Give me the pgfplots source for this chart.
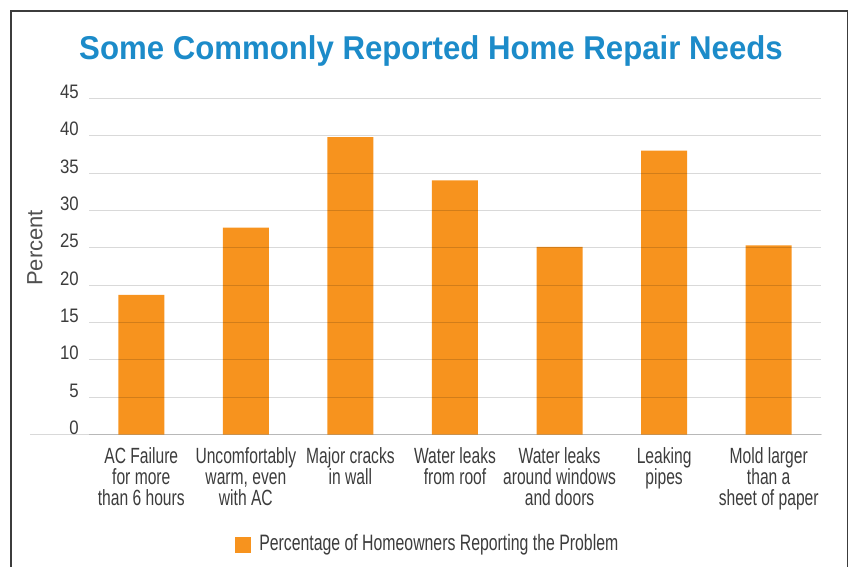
\documentclass[border=0pt]{standalone}
\usepackage{fontspec}
\setmainfont{Liberation Sans}[FakeStretch=0.71]
\newfontfamily\titlefont{Liberation Sans}[FakeStretch=0.945]
\newfontfamily\tickfont{Liberation Sans}[FakeStretch=0.86]
\newfontfamily\plainfont{Liberation Sans}
\usepackage{pgfplots}
\pgfplotsset{compat=1.18}
\definecolor{barorange}{HTML}{F7931E}
\definecolor{titleblue}{HTML}{1C8BC9}
\definecolor{txtgray}{HTML}{3C3C3C}
\definecolor{gridgray}{HTML}{D9D9D9}
\begin{document}
\begin{tikzpicture}[x=1pt,y=1pt]
\path[use as bounding box] (0,0) rectangle (852,566);
\draw[txtgray, line width=1.4pt] (11,-2) -- (11,555) -- (847.7,555) -- (847.7,-2);
\node[anchor=base, font=\titlefont\bfseries\fontsize{33}{33}\selectfont, text=titleblue] at (431,506) {Some Commonly Reported Home Repair Needs};
\draw[gridgray, line width=1pt] (30,131.5) -- (821.7,131.5);
\begin{axis}[
  at={(89pt,131.5pt)}, anchor=south west,
  scale only axis, width=732pt, height=336.2pt,
  xmin=-0.5, xmax=6.5, ymin=0, ymax=45,
  ytick={0,5,...,45},
  xtick={0,...,6},
  xticklabels={{AC Failure\\for more\\than 6 hours},{Uncomfortably\\warm, even\\with AC},{Major cracks\\in wall},{Water leaks\\from roof},{Water leaks\\around windows\\and doors},{Leaking\\pipes},{Mold larger\\than a\\sheet of paper}},
  axis line style={draw=none},
  major tick length=0pt,
  ymajorgrids,
  grid style={draw=black, draw opacity=0.15, line width=1pt},
  axis on top,
  /pgf/number format/assume math mode=true,
  yticklabel style={anchor=base east, inner sep=0pt, xshift=-10pt, font=\tickfont\fontsize{19.5}{19.5}\selectfont, text=txtgray},
  xticklabel style={anchor=north, align=center, inner sep=0pt, yshift=-13pt, font=\fontsize{22}{21}\selectfont, text=txtgray},
  ylabel={Percent},
  ylabel style={at={(axis description cs:-0.0738,0.555)}, anchor=center, font=\plainfont\fontsize{22}{22}\selectfont, text=txtgray!90},
  legend style={draw=none, at={(0.461,-0.3236)}, anchor=center, inner sep=0pt, font=\fontsize{22.3}{22.3}\selectfont, text=txtgray,
    nodes={inner sep=0pt},
    /tikz/every odd column/.style={column sep=8.7pt}},
  legend image code/.code={\fill[barorange] (0pt,-10pt) rectangle (16pt,6pt);},
]
\addplot[ybar, bar width=46pt, fill=barorange, draw=none] coordinates {
  (0,18.7) (1,27.7) (2,39.8) (3,34.0) (4,25.1) (5,38.0) (6,25.3)
};
\addlegendentry{Percentage of Homeowners Reporting the Problem}
\end{axis}
\end{tikzpicture}
\end{document}
